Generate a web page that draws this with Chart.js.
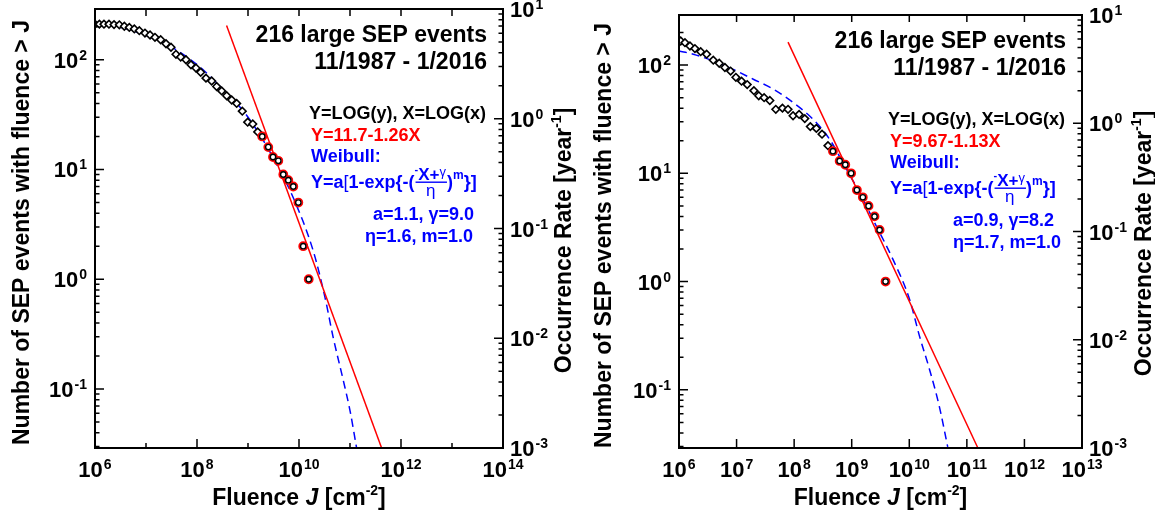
<!DOCTYPE html>
<html>
<head>
<meta charset="utf-8">
<script src="https://cdn.jsdelivr.net/npm/chart.js@4.4.1/dist/chart.umd.min.js"></script>
<style>
  html, body { margin: 0; padding: 0; background: #fff; }
  #wrap { position: relative; width: 1155px; height: 514px; }
  .panel { position: absolute; top: 0; height: 514px; }
</style>
</head>
<body>
<div id="wrap">
  <div class="panel" style="left:0;width:578px"><canvas id="leftChart" width="578" height="514"></canvas></div>
  <div class="panel" style="left:578px;width:577px"><canvas id="rightChart" width="577" height="514"></canvas></div>
</div>
<script>
// ---- left panel (x up to 1e14) ----
const leftFluence = [1.0e6, 1.22e6, 1.5e6, 1.88e6, 2.36e6, 3.0e6, 3.76e6, 4.71e6, 5.9e6, 7.4e6,
  9.55e6, 1.2e7, 1.5e7, 1.94e7, 2.47e7, 3.09e7, 3.87e7, 4.79e7, 6.08e7, 7.62e7,
  9.55e7, 1.18e8, 1.5e8, 1.94e8, 2.43e8, 3.05e8, 3.82e8, 4.79e8, 6.0e8, 7.73e8,
  9.86e8, 1.24e9, 1.55e9];
const leftEvents = [211, 211, 211, 211, 209, 208, 202, 197, 191, 184,
  175, 168, 160, 152, 140, 130, 112, 106, 100, 90,
  84, 77, 68, 64, 57, 52, 47, 43, 40, 34,
  27, 26, 22];
const leftFitFluence = [1.9e9, 2.5e9, 3.09e9, 3.93e9, 4.92e9, 6.17e9, 7.73e9, 9.7e9, 1.21e10, 1.55e10];
const leftFitEvents = [20, 16, 13, 12, 9, 8, 7, 5, 2, 1];
const leftWeibullFluence = [1.0e6, 2.88e6, 1.02e7, 3.72e7, 1.32e8, 3.31e8, 8.13e8, 1.86e9,
  4.27e9, 7.76e9, 1.91e10, 3.24e10, 4.68e10, 7.41e10, 1.0e11, 1.35e11];
const leftWeibullEvents = [219, 200, 166, 125, 81, 53, 34, 19.4,
  9.7, 5.5, 1.8, 0.68, 0.295, 0.119, 0.0636, 0.0288];
const leftLineFluence = [3.8e8, 4.17e11];
const leftLineEvents = [205, 0.029];

// ---- right panel (x up to 1e13) ----
const rightFluence = [1.07e6, 1.27e6, 1.55e6, 1.89e6, 2.38e6, 3.02e6, 3.94e6, 5.0e6, 6.27e6, 7.87e6,
  9.73e6, 1.22e7, 1.53e7, 2.0e7, 2.43e7, 3.01e7, 3.78e7, 4.8e7, 6.27e7, 7.83e7,
  9.57e7, 1.22e8, 1.53e8, 1.91e8, 2.43e8, 3.05e8, 3.87e8];
const rightEvents = [167, 161, 150, 142, 133, 126, 111, 104, 95, 88,
  77, 71, 66, 58, 52, 50, 47, 39, 40, 39,
  34, 35, 32, 27, 26, 23, 18];
const rightFitFluence = [4.72e8, 6.17e8, 7.74e8, 9.77e8, 1.23e9, 1.56e9, 1.96e9, 2.49e9, 3.05e9, 3.87e9];
const rightFitEvents = [16, 13, 12, 10, 7, 6, 5, 4, 3, 1];
const rightWeibullFluence = [1.0e6, 1.77e6, 3.94e6, 8.75e6, 1.95e7, 4.33e7, 9.6e7, 2.13e8, 4.14e8,
  7.53e8, 1.37e9, 2.67e9, 5.18e9, 1.01e10, 1.5e10, 2.24e10, 3.31e10, 4.65e10];
const rightWeibullEvents = [135, 126, 109, 91, 74, 60, 45, 31.6, 20.6,
  11.7, 6.6, 3.26, 1.61, 0.687, 0.315, 0.155, 0.071, 0.0297];
const rightLineFluence = [7.83e7, 1.54e11];
const rightLineEvents = [163, 0.0293];

// tick labels (exponents of 10)
const leftXLabels = [6, 8, 10, 12, 14];
const rightXLabels = [6, 7, 8, 9, 10, 11, 12, 13];
const countLabels = [-1, 0, 1, 2];
const rateLabels = [-3, -2, -1, 0, 1];

const FONT = '"Liberation Sans", Arial, Helvetica, sans-serif';
function font(size, weight, style) {
  return (style || '') + ' ' + (weight || 'bold') + ' ' + size + 'px ' + FONT;
}

function toPoints(xs, ys) {
  return xs.map((x, i) => ({ x: x, y: ys[i] }));
}

// "10" with a raised exponent, y = vertical centre of the "10"
function powLabel(ctx, exp, x, y, align) {
  ctx.font = font(22);
  const w1 = ctx.measureText('10').width;
  ctx.font = font(14);
  const w2 = ctx.measureText(String(exp)).width;
  const total = w1 + 1 + w2;
  let x0 = x;
  if (align === 'right') x0 = x - total;
  if (align === 'center') x0 = x - total / 2;
  ctx.textAlign = 'left';
  ctx.textBaseline = 'alphabetic';
  ctx.font = font(22);
  ctx.fillText('10', x0, y + 8);
  ctx.font = font(14);
  ctx.fillText(String(exp), x0 + w1 + 1, y);
}

// run of text pieces centred on (cx, cy)
function richText(ctx, parts, cx, cy) {
  let total = 0;
  parts.forEach(p => { ctx.font = font(p.size, p.weight, p.style); total += ctx.measureText(p.t).width; });
  let x = cx - total / 2;
  ctx.textAlign = 'left';
  ctx.textBaseline = 'alphabetic';
  parts.forEach(p => {
    ctx.font = font(p.size, p.weight, p.style);
    ctx.fillText(p.t, x, cy + 8 + (p.dy || 0));
    x += ctx.measureText(p.t).width;
  });
}

function logSteps(min, max) {
  const out = [];
  for (let e = Math.floor(Math.log10(min)); e <= Math.ceil(Math.log10(max)); e++) {
    for (let m = 1; m <= 9; m++) {
      const v = m * Math.pow(10, e);
      if (v >= min * 0.9999 && v <= max * 1.0001) out.push({ v: v, major: m === 1 });
    }
  }
  return out;
}

function drawWeibull(ctx, x, B) {
  ctx.textBaseline = 'alphabetic';
  ctx.textAlign = 'left';
  ctx.font = font(18);
  ctx.fillText('Y=a', x, B); x += ctx.measureText('Y=a').width;
  ctx.font = font(18, 'normal');
  ctx.fillText('[', x, B); x += ctx.measureText('[').width;
  ctx.font = font(18);
  ctx.fillText('1-exp{-(', x, B); x += ctx.measureText('1-exp{-(').width;
  const fx = x;
  ctx.font = font(11);
  ctx.fillText('-', x, B - 15); x += ctx.measureText('-').width;
  ctx.font = font(17);
  ctx.fillText('X+', x, B - 8); x += ctx.measureText('X+').width;
  ctx.font = font(13, 'normal');
  ctx.fillText('γ', x, B - 12); x += ctx.measureText('γ').width + 1;
  ctx.fillRect(fx + 1, B - 6.5, x - fx - 1, 1.4);
  ctx.font = font(17, 'normal');
  const we = ctx.measureText('η').width;
  ctx.fillText('η', (fx + x) / 2 - we / 2, B + 8);
  ctx.font = font(18);
  ctx.fillText(')', x, B); x += ctx.measureText(')').width;
  ctx.font = font(12);
  ctx.fillText('m', x, B - 9); x += ctx.measureText('m').width;
  ctx.font = font(18);
  ctx.fillText('}]', x, B);
}

// frame, inward ticks, tick labels, titles and the text block
const framePlugin = {
  id: 'frame',
  afterDraw(chart) {
    const ctx = chart.ctx;
    const a = chart.chartArea;
    const o = chart.options.plugins.frame;
    const xs = chart.scales.x, ys = chart.scales.y, y2 = chart.scales.y2;
    ctx.save();
    ctx.strokeStyle = '#000';
    ctx.fillStyle = '#000';
    ctx.lineWidth = 2;
    ctx.strokeRect(a.left, a.top, a.right - a.left, a.bottom - a.top);

    ctx.lineWidth = 1.5;
    ctx.beginPath();
    logSteps(ys.min, ys.max).forEach(t => {
      const py = ys.getPixelForValue(t.v);
      ctx.moveTo(a.left, py); ctx.lineTo(a.left + (t.major ? 9 : 4.5), py);
    });
    logSteps(y2.min, y2.max).forEach(t => {
      const py = y2.getPixelForValue(t.v);
      ctx.moveTo(a.right, py); ctx.lineTo(a.right - (t.major ? 9 : 4.5), py);
    });
    const e0 = Math.round(Math.log10(xs.min)), e1 = Math.round(Math.log10(xs.max));
    for (let e = e0 + 1; e < e1; e++) {
      const px = xs.getPixelForValue(Math.pow(10, e));
      const len = o.xLabels.includes(e) ? 9 : 5;
      ctx.moveTo(px, a.bottom); ctx.lineTo(px, a.bottom - len);
      ctx.moveTo(px, a.top); ctx.lineTo(px, a.top + 7);
    }
    ctx.stroke();

    o.xLabels.forEach(e => powLabel(ctx, e, xs.getPixelForValue(Math.pow(10, e)), a.bottom + 21, 'center'));
    countLabels.forEach(e => powLabel(ctx, e, a.left - 8, ys.getPixelForValue(Math.pow(10, e)), 'right'));
    rateLabels.forEach(e => powLabel(ctx, e, a.right + 7, y2.getPixelForValue(Math.pow(10, e)), 'left'));

    const midX = (a.left + a.right) / 2, midY = (a.top + a.bottom) / 2;
    richText(ctx, [
      { t: 'Fluence ', size: 23 },
      { t: 'J', size: 23, style: 'italic' },
      { t: ' [cm', size: 23 },
      { t: '-2', size: 14, dy: -10 },
      { t: ']', size: 23 }
    ], midX, a.bottom + 49);

    ctx.save();
    ctx.translate(o.leftTitleX, midY + 4);
    ctx.rotate(-Math.PI / 2);
    richText(ctx, [{ t: 'Number of SEP events with fluence > J', size: 23 }], 0, 0);
    ctx.restore();

    ctx.save();
    ctx.translate(o.rightTitleX, midY + 12);
    ctx.rotate(-Math.PI / 2);
    richText(ctx, [
      { t: 'Occurrence Rate [year', size: 23 },
      { t: '-1', size: 14, dy: -10 },
      { t: ']', size: 23 }
    ], 0, 0);
    ctx.restore();

    // text block
    ctx.textBaseline = 'middle';
    ctx.textAlign = 'right';
    ctx.font = font(23);
    ctx.fillText(o.events, a.right - 16, a.top + 27);
    ctx.fillText(o.period, a.right - 16, a.top + 54);
    ctx.font = font(18);
    ctx.fillText('Y=LOG(y), X=LOG(x)', a.right - 17, a.top + 105);
    ctx.textAlign = 'left';
    const lx = a.right - 192;
    ctx.fillStyle = '#ff0000';
    ctx.fillText(o.fit, lx, a.top + 127);
    ctx.fillStyle = '#0000ff';
    ctx.fillText('Weibull:', lx, a.top + 148);
    drawWeibull(ctx, lx, a.top + 179);
    ctx.textBaseline = 'middle';
    ctx.font = font(18);
    ctx.fillText(o.param1, a.right - o.param1X, a.top + 206);
    ctx.fillText(o.param2, a.right - o.param2X, a.top + 228);
    ctx.restore();
  }
};

function makePanel(id, cfg) {
  const el = document.getElementById(id);
  return new Chart(el, {
    type: 'scatter',
    data: {
      datasets: [
        { data: toPoints(cfg.fitX, cfg.fitY), pointStyle: 'circle', pointRadius: 2.7,
          borderColor: '#000', backgroundColor: '#fff', borderWidth: 1.4, order: 0 },
        { data: toPoints(cfg.fitX, cfg.fitY), pointStyle: 'circle', pointRadius: 4,
          borderColor: '#ff0000', backgroundColor: '#fff', borderWidth: 1.8, order: 1 },
        { data: toPoints(cfg.ptsX, cfg.ptsY), pointStyle: 'rectRot', pointRadius: 3.8,
          borderColor: '#000', backgroundColor: '#fff', borderWidth: 1.6, order: 2 },
        { data: toPoints(cfg.lineX, cfg.lineY), showLine: true, pointRadius: 0,
          borderColor: '#ff0000', borderWidth: 1.5, order: 3 },
        { data: toPoints(cfg.wbX, cfg.wbY), showLine: true, pointRadius: 0,
          borderColor: '#0000ff', borderWidth: 1.5, borderDash: [8, 5],
          cubicInterpolationMode: 'monotone', order: 4 }
      ]
    },
    options: {
      responsive: false,
      animation: false,
      devicePixelRatio: 1,
      layout: { padding: { top: cfg.top, left: 0, right: 0, bottom: 0 } },
      plugins: {
        legend: { display: false },
        tooltip: { enabled: false },
        frame: cfg.frame
      },
      scales: {
        x: {
          type: 'logarithmic', min: 1e6, max: cfg.xMax,
          ticks: { display: false }, grid: { display: false }, border: { display: false },
          afterFit: s => { s.height = 514 - 448; }
        },
        y: {
          type: 'logarithmic', position: 'left', min: 0.029, max: 290,
          ticks: { display: false }, grid: { display: false }, border: { display: false },
          afterFit: s => { s.width = cfg.leftW; }
        },
        y2: {
          type: 'logarithmic', position: 'right', min: 0.001, max: 10,
          ticks: { display: false }, grid: { display: false }, border: { display: false },
          afterFit: s => { s.width = cfg.rightW; }
        }
      }
    },
    plugins: [framePlugin]
  });
}

makePanel('leftChart', {
  ptsX: leftFluence, ptsY: leftEvents, fitX: leftFitFluence, fitY: leftFitEvents,
  wbX: leftWeibullFluence, wbY: leftWeibullEvents, lineX: leftLineFluence, lineY: leftLineEvents,
  xMax: 1e14, top: 9, leftW: 95, rightW: 75,
  frame: { xLabels: leftXLabels, leftTitleX: 21, rightTitleX: 563,
    events: '216 large SEP events', period: '11/1987 - 1/2016', fit: 'Y=11.7-1.26X',
    param1: 'a=1.1, γ=9.0', param2: 'η=1.6, m=1.0', param1X: 130, param2X: 138 }
});

makePanel('rightChart', {
  ptsX: rightFluence, ptsY: rightEvents, fitX: rightFitFluence, fitY: rightFitEvents,
  wbX: rightWeibullFluence, wbY: rightWeibullEvents, lineX: rightLineFluence, lineY: rightLineEvents,
  xMax: 1e13, top: 15, leftW: 101, rightW: 73,
  frame: { xLabels: rightXLabels, leftTitleX: 25, rightTitleX: 565,
    events: '216 large SEP events', period: '11/1987 - 1/2016', fit: 'Y=9.67-1.13X',
    param1: 'a=0.9, γ=8.2', param2: 'η=1.7, m=1.0', param1X: 129, param2X: 129 }
});
</script>
</body>
</html>
